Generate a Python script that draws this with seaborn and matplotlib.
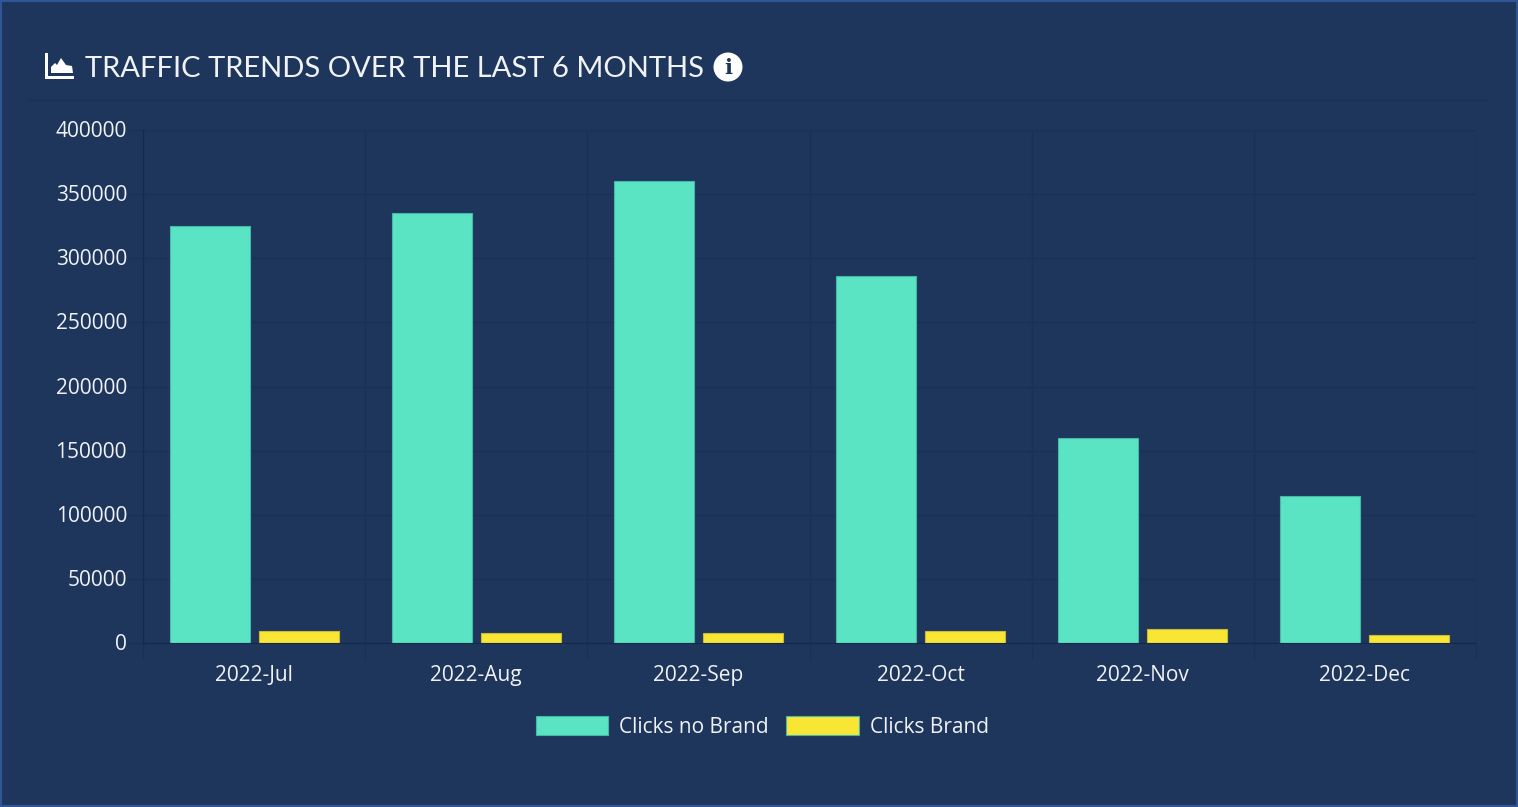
import matplotlib.pyplot as plt
from matplotlib.patches import Circle, Polygon, Rectangle
from matplotlib.lines import Line2D
from matplotlib.transforms import ScaledTranslation
import seaborn as sns
import pandas as pd
import numpy as np

BG = '#1e365c'
GRID = '#1b3056'
AXIS = '#16284a'
TEXT = '#f0f2f6'

plt.rcParams['font.family'] = ['Open Sans', 'DejaVu Sans']

def get_traffic_data() -> pd.DataFrame:
    months = ['2022-Jul', '2022-Aug', '2022-Sep', '2022-Oct', '2022-Nov', '2022-Dec']
    no_brand = [325000, 335500, 360000, 286000, 160000, 115000]
    brand = [9500, 8000, 8000, 9000, 11000, 6000]
    return pd.DataFrame({
        'month': months * 2,
        'clicks': no_brand + brand,
        'kind': ['Clicks no Brand'] * 6 + ['Clicks Brand'] * 6,
    })

def show_bars(traffic: pd.DataFrame, plt_container: plt.Figure):
    subplot = plt_container.add_subplot(1, 1, 1)
    subplot.set_facecolor(BG)
    sns.barplot(data=traffic, x='month', y='clicks', hue='kind', ax=subplot,
                palette=['#5ae4c3', '#f9e534'], width=0.8, gap=0.1, saturation=1,
                edgecolor='#45b8a8', linewidth=0.8)
    for bar in subplot.containers[1]:
        bar.set_edgecolor('#c9b93a')
    subplot.set_xlim(-0.5, 5.5)
    subplot.set_ylim(0, 400000)
    subplot.set_yticks(np.arange(0, 450000, 50000))
    subplot.set_xticks(np.arange(-0.5, 6, 1), minor=True)
    subplot.grid(True, axis='y', color=GRID, linewidth=1)
    subplot.grid(True, axis='x', which='minor', color=GRID, linewidth=1)
    subplot.grid(False, axis='x', which='major')
    subplot.set_axisbelow(True)
    subplot.tick_params(axis='x', which='major', length=0, pad=16, labelsize=15, labelcolor=TEXT)
    subplot.tick_params(axis='x', which='minor', length=12, width=0.8, color=GRID)
    subplot.tick_params(axis='y', length=10.5, width=1, color=GRID, pad=1, labelsize=15, labelcolor=TEXT)
    subplot.set_xlabel('')
    subplot.set_ylabel('')
    for side in ['top', 'right']:
        subplot.spines[side].set_visible(False)
    subplot.spines['left'].set_color(AXIS)
    subplot.spines['bottom'].set_color(AXIS)
    # y labels sit a little above their grid lines
    for label in subplot.get_yticklabels():
        label.set_transform(label.get_transform() + ScaledTranslation(0, 1 / 100, plt_container.dpi_scale_trans))
    # legend sits under the axes, with long flat swatches
    subplot.legend(loc='center', bbox_to_anchor=(762 / 1518, 1 - 727 / 807),
                   bbox_transform=plt_container.transFigure, ncol=2, frameon=False,
                   fontsize=15, labelcolor=TEXT, handlelength=3.5, handleheight=1.0,
                   columnspacing=0.85, handletextpad=0.5, borderpad=0)

def show_header(plt_container: plt.Figure):
    W, H = 1518, 807
    def px(x, y):
        return x / W, 1 - y / H
    plt_container.text(*px(85, 69), 'TRAFFIC TRENDS OVER THE LAST 6 MONTHS', color=TEXT,
                       fontsize=21, family=['Lato', 'DejaVu Sans'], va='center')
    plt_container.add_artist(Line2D([28 / W, 1486 / W], [1 - 100 / H] * 2, color=GRID, linewidth=1))
    # chart area icon
    plt_container.add_artist(Polygon([px(45, 53), px(48, 53), px(48, 76), px(74, 76), px(74, 79), px(45, 79)],
                                     color='white', lw=0))
    plt_container.add_artist(Polygon([px(51, 73), px(51, 67), px(55, 63), px(57, 65), px(61, 58),
                                      px(66, 65), px(72, 66), px(73, 73)], color='white', lw=0))
    plt_container.add_artist(Rectangle((0, 0), 1, 1, transform=plt_container.transFigure, fill=False,
                                       edgecolor='#2f5597', linewidth=3))
    # info icon
    plt_container.add_artist(Circle((728, H - 67), 14.5, transform=None, color='white', lw=0))
    plt_container.text(*px(728, 67.5), 'i', color=BG, fontsize=15, fontweight='bold',
                       family=['DejaVu Serif'], ha='center', va='center')

traffic = get_traffic_data()
print(traffic.shape)
plt_container = plt.figure(figsize=(15.18, 8.07), dpi=100, facecolor=BG)
show_bars(traffic, plt_container)
show_header(plt_container)

# Adjust layout to the pixel box of the plot area
plt.subplots_adjust(left=143 / 1518, right=1476 / 1518, top=1 - 130 / 807, bottom=1 - 643 / 807)
plt.savefig('out.png', dpi=100, facecolor=BG)
